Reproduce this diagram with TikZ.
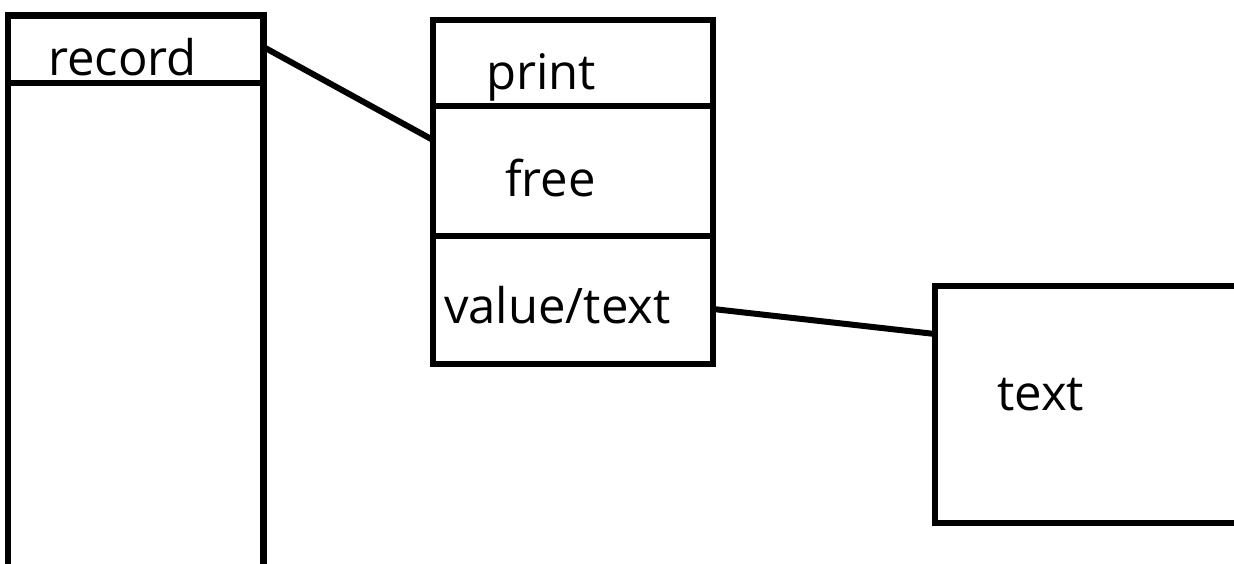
\documentclass[tikz,border=0pt]{standalone}
\usepackage{fontspec}
\setmainfont{Open Sans}
\begin{document}
\begin{tikzpicture}[x=1pt, y=-1pt,
  cell/.style={draw, rectangle, anchor=north west, inner sep=0pt, outer sep=0pt, line width=6.5pt},
  lbl/.style={anchor=base west, inner sep=0pt, font=\fontsize{49}{58}\selectfont},
  wire/.style={line width=6pt}]
\useasboundingbox (0,0) rectangle (1234,564);
\clip (0,0) rectangle (1234,564);

% record column: header cell and the tall body below it
\node[cell, minimum width=255.5pt, minimum height=67.5pt] (rechead) at (8,15.5) {};
\node[cell, minimum width=255.5pt, minimum height=520pt] (recbody) at (8,83) {};

% middle column: three stacked cells
\node[cell, minimum width=280pt, minimum height=86pt] (printcell) at (433,20) {};
\node[cell, minimum width=280pt, minimum height=130pt] (freecell) at (433,106) {};
\node[cell, minimum width=280pt, minimum height=128pt] (valuecell) at (433,236) {};

% text box on the right
\node[cell, minimum width=302pt, minimum height=237pt] (textbox) at (935,286) {};

% labels
\node[lbl] (reclbl) at (48,76) {record};
\node[lbl] (printlbl) at (486,90) {print};
\node[lbl] (freelbl) at (505,197) {free};
\node[lbl] (valuelbl) at (444,323) {value/text};
\node[lbl] (textlbl) at (997,410) {text};

% connector end points on the cell borders
\coordinate (recout) at (rechead.east |- 0,47);
\coordinate (freein) at (freecell.west |- 0,140);
\coordinate (valout) at (valuecell.east |- 0,309);
\coordinate (textin) at (textbox.west |- 0,334);

% connectors
\draw[wire] (recout) -- (freein);
\draw[wire] (valout) -- (textin);
\end{tikzpicture}
\end{document}
